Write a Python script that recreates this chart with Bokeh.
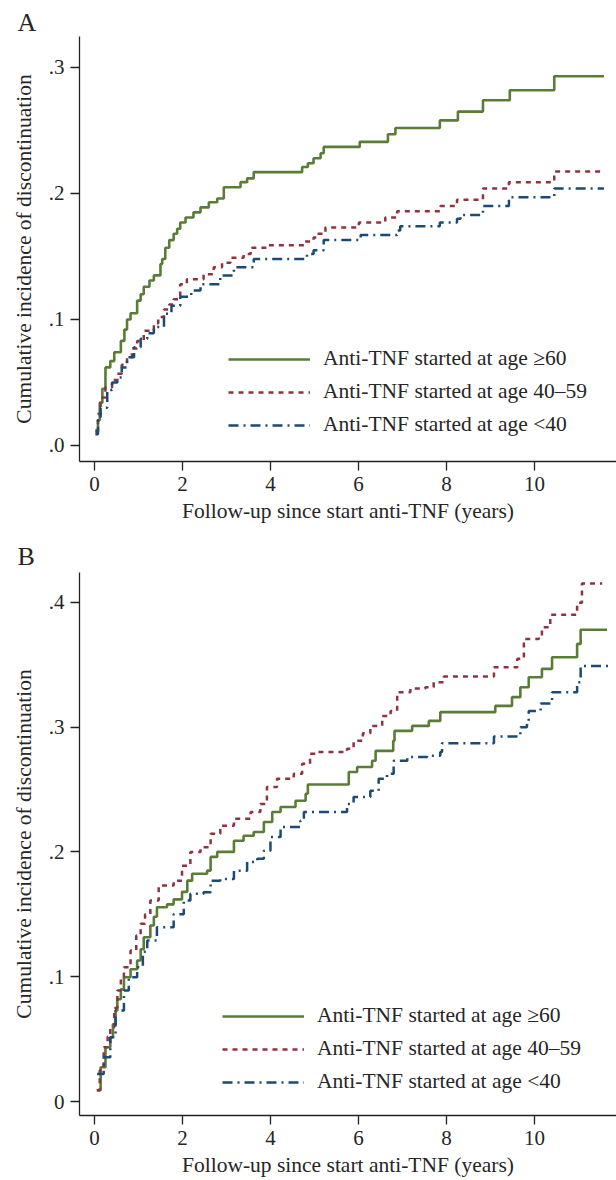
from bokeh.plotting import figure
from bokeh.models import Range1d, FixedTicker, Legend, LegendItem
from bokeh.layouts import column
from bokeh.embed import file_html
from bokeh.resources import INLINE

# ---------------- data ----------------
series_labels = ["Anti-TNF started at age \u226560",
                 "Anti-TNF started at age 40\u201359",
                 "Anti-TNF started at age <40"]
x_label = "Follow-up since start anti-TNF (years)"
y_label = "Cumulative incidence of discontinuation"
x_ticks = [0, 2, 4, 6, 8, 10]
a_y_ticks = [0.0, 0.1, 0.2, 0.3]
a_y_tick_labels = [".0", ".1", ".2", ".3"]
b_y_ticks = [0.0, 0.1, 0.2, 0.3, 0.4]
b_y_tick_labels = ["0", ".1", ".2", ".3", ".4"]

# Panel A
a_old_t = [0.02, 0.08, 0.12, 0.18, 0.25, 0.36, 0.45, 0.6, 0.68, 0.74, 0.82, 0.97, 1.05, 1.12, 1.25, 1.35,
           1.5, 1.54, 1.61, 1.7, 1.8, 1.88, 1.95, 2.07, 2.25, 2.41, 2.6, 2.79, 2.94, 3.32, 3.47, 3.62,
           4.72, 4.85, 4.98, 5.14, 5.21, 6.03, 6.67, 6.84, 7.85, 8.26, 8.83, 9.44, 10.45, 11.58]
a_old_v = [0.012, 0.02, 0.034, 0.045, 0.062, 0.067, 0.074, 0.083, 0.092, 0.1, 0.105, 0.115, 0.12, 0.126, 0.131, 0.135,
           0.144, 0.148, 0.157, 0.163, 0.168, 0.172, 0.177, 0.181, 0.185, 0.189, 0.193, 0.196, 0.205, 0.209, 0.212, 0.217,
           0.221, 0.224, 0.228, 0.232, 0.237, 0.241, 0.247, 0.252, 0.258, 0.265, 0.274, 0.282, 0.293, 0.293]
a_mid_t = [0.02, 0.08, 0.14, 0.25, 0.4, 0.52, 0.62, 0.74, 0.85, 0.97, 1.12, 1.35, 1.45, 1.58, 1.7, 1.8,
           1.95, 2.1, 2.48, 2.71, 2.9, 3.09, 3.39, 3.55, 3.92, 4.76, 4.98, 5.06, 5.25, 6.01, 6.61, 6.88,
           7.86, 8.24, 8.83, 9.42, 10.45, 11.58]
a_mid_v = [0.011, 0.025, 0.038, 0.046, 0.052, 0.057, 0.064, 0.07, 0.077, 0.083, 0.091, 0.097, 0.102, 0.108, 0.112, 0.116,
           0.128, 0.132, 0.136, 0.1415, 0.145, 0.149, 0.152, 0.157, 0.159, 0.162, 0.165, 0.168, 0.173, 0.177, 0.181, 0.186,
           0.19, 0.195, 0.204, 0.209, 0.2175, 0.2175]
a_young_t = [0.02, 0.08, 0.14, 0.29, 0.4, 0.52, 0.62, 0.74, 0.9, 1.05, 1.2, 1.35, 1.58, 1.75, 1.95, 2.2,
             2.41, 2.86, 3.17, 3.62, 4.83, 4.98, 5.21, 6.05, 6.88, 6.95, 7.85, 8.24, 8.32, 8.83, 9.42, 10.45, 11.58]
a_young_v = [0.009, 0.02, 0.03, 0.044, 0.05, 0.054, 0.062, 0.07, 0.078, 0.0847, 0.089, 0.094, 0.1045, 0.111, 0.118, 0.123,
             0.128, 0.135, 0.1415, 0.148, 0.152, 0.155, 0.163, 0.167, 0.1706, 0.174, 0.177, 0.18, 0.183, 0.19, 0.197, 0.204, 0.204]

# Panel B
b_old_t = [0.06, 0.14, 0.25, 0.36, 0.42, 0.48, 0.52, 0.6, 0.67, 0.82, 0.97, 1.05, 1.12, 1.27, 1.35, 1.42,
           1.65, 1.8, 1.99, 2.11, 2.22, 2.56, 2.64, 2.79, 3.17, 3.39, 3.62, 3.85, 4.04, 4.23, 4.57, 4.8,
           4.85, 5.78, 5.97, 6.31, 6.39, 6.79, 6.82, 7.22, 7.6, 7.86, 9.11, 9.49, 9.68, 9.87, 10.17, 10.4,
           10.97, 11.05, 11.65]
b_old_v = [0.009, 0.0275, 0.0435, 0.0515, 0.062, 0.073, 0.082, 0.09, 0.0996, 0.106, 0.113, 0.122, 0.1316, 0.141, 0.148, 0.1557,
           0.158, 0.162, 0.168, 0.177, 0.1825, 0.185, 0.196, 0.2, 0.209, 0.213, 0.216, 0.224, 0.232, 0.236, 0.241, 0.2466,
           0.254, 0.264, 0.268, 0.273, 0.281, 0.289, 0.297, 0.301, 0.305, 0.312, 0.317, 0.324, 0.332, 0.34, 0.3467, 0.356,
           0.3667, 0.378, 0.378]
b_mid_t = [0.05, 0.12, 0.21, 0.3, 0.36, 0.45, 0.52, 0.6, 0.67, 0.82, 0.95, 1.05, 1.15, 1.27, 1.46, 1.8,
           1.99, 2.18, 2.41, 2.64, 2.86, 3.17, 3.55, 3.77, 3.92, 4.15, 4.53, 4.72, 4.9, 5.06, 5.74, 5.89,
           6.1, 6.27, 6.54, 6.73, 6.88, 7.18, 7.52, 7.71, 7.94, 9.08, 9.61, 9.76, 10.1, 10.17, 10.36, 10.97,
           11.08, 11.54]
b_mid_v = [0.009, 0.025, 0.0435, 0.052, 0.0595, 0.075, 0.089, 0.099, 0.1076, 0.121, 0.133, 0.1424, 0.15, 0.161, 0.173, 0.177,
           0.189, 0.2, 0.2038, 0.2145, 0.221, 0.2265, 0.232, 0.2385, 0.252, 0.2586, 0.2626, 0.2706, 0.2786, 0.28, 0.2826, 0.289,
           0.295, 0.301, 0.309, 0.313, 0.328, 0.331, 0.332, 0.336, 0.3405, 0.348, 0.3547, 0.3707, 0.372, 0.38, 0.39, 0.3997,
           0.415, 0.415]
b_young_t = [0.06, 0.21, 0.36, 0.48, 0.67, 0.78, 0.97, 1.1, 1.2, 1.42, 1.8, 2.03, 2.18, 2.48, 2.64, 2.86,
             3.17, 3.47, 3.7, 3.85, 4.0, 4.23, 4.68, 4.76, 5.74, 5.89, 6.27, 6.46, 6.65, 6.8, 7.11, 7.56,
             7.86, 7.9, 9.08, 9.68, 9.83, 9.87, 10.14, 10.4, 10.97, 11.05, 11.69]
b_young_v = [0.022, 0.0355, 0.0515, 0.073, 0.089, 0.0996, 0.1076, 0.12, 0.129, 0.1397, 0.15, 0.161, 0.1664, 0.1677, 0.177, 0.1784,
             0.185, 0.192, 0.1945, 0.201, 0.212, 0.22, 0.225, 0.232, 0.2385, 0.244, 0.249, 0.2586, 0.2626, 0.273, 0.276, 0.277,
             0.28, 0.287, 0.2925, 0.3, 0.305, 0.313, 0.319, 0.328, 0.336, 0.349, 0.35]

# ---------------- style ----------------
FONT = "Liberation Serif"
TXT = "#262626"
C_GREEN = "#5a7c36"
C_RED = "#8e3340"
C_BLUE = "#1b4a74"


def make_panel(letter, height, top, bottom, yr, yticks, ylabels, series, legend_xy, title_standoff):
    p = figure(width=616, height=height, output_backend="svg", toolbar_location=None,
               x_range=Range1d(-0.34, 11.865), y_range=Range1d(*yr),
               min_border_left=79, min_border_right=0, min_border_top=top, min_border_bottom=bottom)
    p.outline_line_color = None
    p.xgrid.visible = False
    p.ygrid.visible = False
    p.background_fill_color = "white"
    p.border_fill_color = "white"

    p.title.text = letter
    p.title.align = "left"
    p.title.offset = -62
    p.title.text_font = FONT
    p.title.text_font_size = "26px"
    p.title.text_font_style = "normal"
    p.title.text_color = TXT
    p.title.standoff = title_standoff

    for ax in (p.xaxis[0], p.yaxis[0]):
        ax.axis_line_color = "#222222"
        ax.axis_line_width = 1.3
        ax.major_tick_line_color = "#222222"
        ax.major_tick_line_width = 1.3
        ax.major_tick_in = 0
        ax.major_tick_out = 9
        ax.minor_tick_line_color = None
        ax.major_label_text_font = FONT
        ax.major_label_text_font_size = "21px"
        ax.major_label_text_color = TXT
        ax.axis_label_text_font = FONT
        ax.axis_label_text_font_size = "21.5px"
        ax.axis_label_text_font_style = "normal"
        ax.axis_label_text_color = TXT
        ax.major_label_standoff = 6

    p.xaxis.ticker = FixedTicker(ticks=x_ticks)
    p.yaxis.ticker = FixedTicker(ticks=yticks)
    p.yaxis.major_label_overrides = {t: l for t, l in zip(yticks, ylabels)}
    p.yaxis.major_label_orientation = "horizontal"
    p.xaxis.axis_label = x_label
    p.yaxis.axis_label = y_label
    p.xaxis.axis_label_standoff = 5
    p.yaxis.axis_label_standoff = 10

    items = []
    styles = [(C_GREEN, 2.6, "solid"), (C_RED, 2.5, "5 5"), (C_BLUE, 2.5, "10 5 2 5")]
    for (t, v), lab, (col, w, dash) in zip(series, series_labels, styles):
        r = p.step(t, v, mode="after", line_color=col, line_width=w, line_dash=dash)
        items.append(LegendItem(label=lab, renderers=[r]))

    leg = Legend(items=items, location=legend_xy, orientation="vertical",
                 glyph_width=82, glyph_height=20, label_height=20, label_standoff=13,
                 spacing=8, padding=0, margin=0, border_line_color=None,
                 background_fill_alpha=0, label_text_font=FONT,
                 label_text_font_size="21.5px", label_text_color=TXT)
    p.add_layout(leg, "center")

    return p


pA = make_panel("A", 536, 36, 75, (-0.0127, 0.3246), a_y_ticks, a_y_tick_labels,
                [(a_old_t, a_old_v), (a_mid_t, a_mid_v), (a_young_t, a_young_v)], (149, 24), 0)

pB = make_panel("B", 644, 36, 65, (-0.0112, 0.4239), b_y_ticks, b_y_tick_labels,
                [(b_old_t, b_old_v), (b_mid_t, b_mid_v), (b_young_t, b_young_v)], (143, 21), 3)

layout = column(pA, pB, spacing=0)
open("out.html", "w").write(file_html(layout, INLINE))
